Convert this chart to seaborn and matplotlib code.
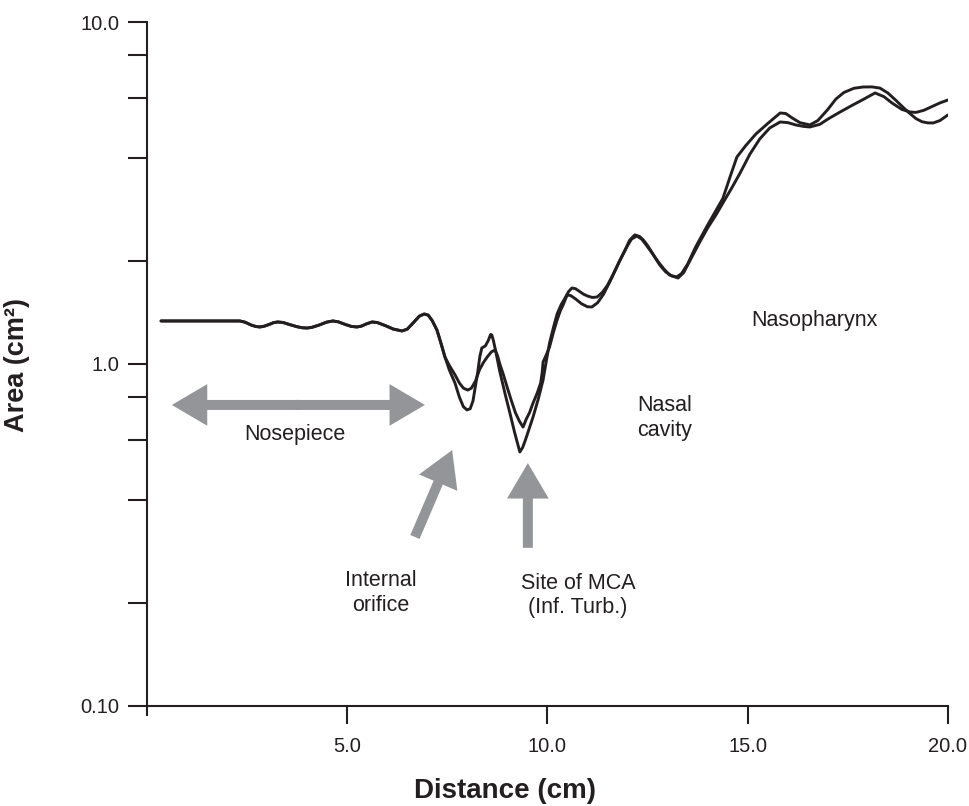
import numpy as np
import pandas as pd
import matplotlib
matplotlib.use("Agg")
import matplotlib.pyplot as plt
from matplotlib.ticker import FixedLocator, NullFormatter
import seaborn as sns

# Shared nosepiece section (both traces overlap here)
shared_x = [0.35, 2.32, 2.45, 2.60, 2.72, 2.82, 2.93, 3.05, 3.17, 3.27, 3.40, 3.55, 3.75,
            3.88, 4.00, 4.12, 4.30, 4.48, 4.64, 4.78, 4.95, 5.10, 5.24, 5.35, 5.48, 5.62,
            5.75, 5.95, 6.15, 6.37, 6.50, 6.65, 6.80, 6.92, 7.02, 7.12, 7.24, 7.34, 7.44]
shared_y = [1.336, 1.336, 1.325, 1.300, 1.287, 1.283, 1.290, 1.305, 1.322, 1.327, 1.322,
            1.305, 1.285, 1.276, 1.274, 1.280, 1.300, 1.325, 1.336, 1.328, 1.305, 1.288,
            1.283, 1.290, 1.310, 1.327, 1.322, 1.295, 1.265, 1.249, 1.265, 1.320, 1.380,
            1.400, 1.390, 1.340, 1.257, 1.150, 1.048]

# Trace A (deeper troughs)
trace_a_x = [7.55, 7.69, 7.80, 7.90, 7.99, 8.07, 8.14, 8.20, 8.26, 8.31, 8.36, 8.45, 8.52,
             8.58, 8.61, 8.65, 8.70, 8.81, 8.95, 9.06, 9.18, 9.31, 9.38, 9.45, 9.55, 9.64,
             9.77, 9.89, 9.97, 10.05, 10.15, 10.24, 10.34, 10.44, 10.53, 10.61, 10.70,
             10.80, 10.90, 11.00, 11.12, 11.24, 11.37, 11.50, 11.65, 11.80, 11.95, 12.05,
             12.18, 12.30, 12.40, 12.50, 12.65, 12.80, 12.95, 13.10, 13.23, 13.35, 13.50,
             13.70, 14.00, 14.20, 14.38, 14.55, 14.73, 14.95, 15.20, 15.50, 15.81, 15.95,
             16.10, 16.30, 16.55, 16.75, 17.00, 17.20, 17.40, 17.65, 17.88, 18.10, 18.30,
             18.50, 18.70, 18.90, 19.05, 19.20, 19.35, 19.50, 19.63, 19.80, 20.00]
trace_a_y = [0.96, 0.88, 0.80, 0.75, 0.734, 0.74, 0.78, 0.86, 0.95, 1.05, 1.114, 1.13, 1.17,
             1.22, 1.216, 1.17, 1.10, 0.95, 0.81, 0.72, 0.63, 0.553, 0.57, 0.60, 0.65, 0.70,
             0.79, 0.898, 1.02, 1.15, 1.28, 1.40, 1.49, 1.56, 1.63, 1.668, 1.66,
             1.63, 1.60, 1.58, 1.565, 1.57, 1.62, 1.70, 1.84, 2.00, 2.17, 2.30,
             2.385, 2.36, 2.30, 2.22, 2.08, 1.95, 1.86, 1.81, 1.797, 1.84, 1.96,
             2.20, 2.55, 2.80, 3.05, 3.50, 4.03, 4.35, 4.70, 5.05, 5.42, 5.40,
             5.25, 5.08, 5.00, 5.15, 5.55, 5.95, 6.22, 6.40, 6.456, 6.46, 6.41,
             6.20, 5.90, 5.60, 5.40, 5.22, 5.11, 5.07, 5.067, 5.15, 5.35]

# Trace B (shallower troughs)
trace_b_x = [7.55, 7.69, 7.80, 7.90, 8.01, 8.10, 8.20, 8.30, 8.40, 8.50, 8.60, 8.69, 8.75,
             8.81, 8.90, 9.00, 9.10, 9.20, 9.30, 9.39, 9.47, 9.55, 9.64, 9.74, 9.83, 9.87,
             9.89, 9.95, 10.05, 10.15, 10.24, 10.32, 10.39, 10.49, 10.58, 10.70, 10.85,
             11.00, 11.11, 11.25, 11.40, 11.60, 11.80, 12.00, 12.10, 12.23, 12.35, 12.45,
             12.60, 12.75, 12.90, 13.05, 13.26, 13.40, 13.60, 13.80, 14.00, 14.20, 14.38,
             14.60, 14.81, 15.05, 15.30, 15.55, 15.81, 16.00, 16.20, 16.40, 16.55, 16.80,
             17.00, 17.30, 17.60, 17.90, 18.18, 18.40, 18.60, 18.85, 19.05, 19.20, 19.40,
             19.63, 19.80, 20.00]
trace_b_y = [0.99, 0.93, 0.88, 0.85, 0.839, 0.85, 0.89, 0.96, 1.01, 1.05, 1.085, 1.099, 1.06,
             1.00, 0.93, 0.85, 0.78, 0.72, 0.68, 0.654, 0.69, 0.72, 0.769, 0.82, 0.88, 0.95,
             1.014, 1.05, 1.12, 1.24, 1.345, 1.43, 1.488, 1.591, 1.585, 1.55, 1.50,
             1.47, 1.468, 1.51, 1.60, 1.78, 2.00, 2.22, 2.32, 2.367, 2.32, 2.24,
             2.12, 2.00, 1.90, 1.82, 1.784, 1.85, 2.05, 2.27, 2.50, 2.72, 2.956,
             3.27, 3.618, 4.10, 4.55, 4.90, 5.101, 5.08, 5.00, 4.95, 4.932, 5.02,
             5.20, 5.45, 5.70, 5.95, 6.202, 6.05, 5.80, 5.55, 5.457, 5.44, 5.52,
             5.68, 5.80, 5.915]

x_ticks = [5, 10, 15, 20]
x_tick_labels = ["5.0", "10.0", "15.0", "20.0"]
y_ticks = [0.1, 1.0, 10.0]
y_tick_labels = ["0.10", "1.0", "10.0"]
y_minor = [0.2, 0.4, 0.6, 0.8, 2, 4, 6, 8]

df = pd.concat([
    pd.DataFrame({"distance": shared_x + trace_a_x, "area": shared_y + trace_a_y, "trace": "A"}),
    pd.DataFrame({"distance": shared_x + trace_b_x, "area": shared_y + trace_b_y, "trace": "B"}),
])

sns.set_style("ticks")
plt.rcParams["font.family"] = ["Liberation Sans", "DejaVu Sans"]

ink = "#231f20"
grey = "#939598"

fig = plt.figure(figsize=(9.69, 8.06), dpi=100)
ax = fig.add_axes([0.1517, 0.1241, 0.8266, 0.8486])

sns.lineplot(data=df, x="distance", y="area", hue="trace", palette=[ink, ink],
             estimator=None, sort=False, legend=False, linewidth=2.1, ax=ax)

ax.set_yscale("log")
ax.set_xlim(0, 20)
ax.set_ylim(0.1, 10)
ax.set_xticks(x_ticks)
ax.set_xticklabels(x_tick_labels)
ax.xaxis.set_minor_locator(FixedLocator([0]))
ax.set_yticks(y_ticks)
ax.set_yticklabels(y_tick_labels)
ax.yaxis.set_minor_locator(FixedLocator(y_minor))
ax.yaxis.set_minor_formatter(NullFormatter())

ax.tick_params(axis="x", which="major", length=13, width=1.5, color=ink,
               labelsize=14.5, labelcolor=ink, pad=9)
ax.tick_params(axis="x", which="minor", length=7, width=1.5, color=ink)
ax.tick_params(axis="y", which="both", length=14, width=1.5, color=ink,
               labelsize=14.5, labelcolor=ink, pad=6)

for side in ["top", "right"]:
    ax.spines[side].set_visible(False)
for side in ["left", "bottom"]:
    ax.spines[side].set_linewidth(1.5)
    ax.spines[side].set_color(ink)

ax.set_xlabel("Distance (cm)", fontsize=20, fontweight="bold", color=ink)
ax.set_ylabel("Area (cm²)", fontsize=19.5, fontweight="bold", color=ink)
ax.xaxis.set_label_coords(0.447, -0.105)
ax.yaxis.set_label_coords(-0.146, 0.4985)

# grey arrows
def arrow(tip, tail):
    ax.annotate("", xy=tip, xytext=tail,
                arrowprops=dict(arrowstyle="simple,head_length=0.85,head_width=1.0,tail_width=0.24",
                                color=grey, mutation_scale=30, shrinkA=0, shrinkB=0, lw=0))

arrow((0.62, 0.759), (3.8, 0.759))
arrow((6.94, 0.759), (3.7, 0.759))
arrow((7.62, 0.560), (6.69, 0.312))
arrow((9.51, 0.513), (9.51, 0.290))

txt = dict(fontsize=15.5, color=ink, linespacing=1.2)
ax.text(3.70, 0.624, "Nosepiece", ha="center", va="center", **txt)
ax.text(5.84, 0.214, "Internal\norifice", ha="center", va="center", **txt)
ax.text(10.76, 0.21, "Site of MCA\n(Inf. Turb.)", ha="center", va="center", **txt)
ax.text(12.23, 0.695, "Nasal\ncavity", ha="left", va="center", **txt)
ax.text(15.1, 1.336, "Nasopharynx", ha="left", va="center", **txt)

fig.savefig("out.png", dpi=100)
